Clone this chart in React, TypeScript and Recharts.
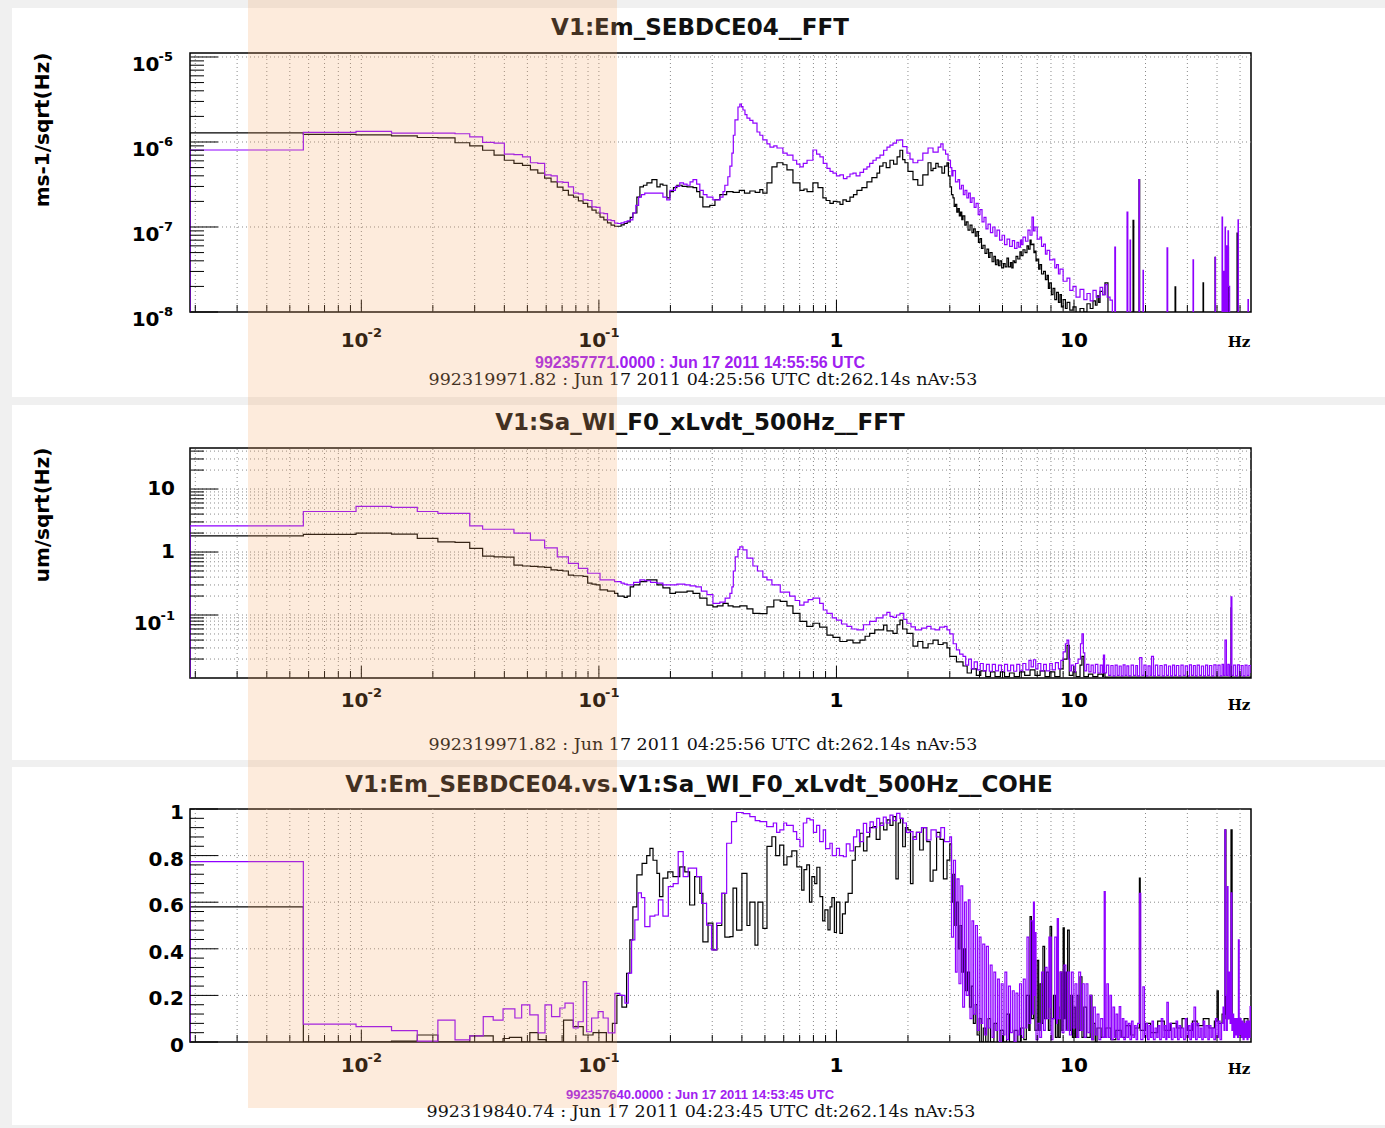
import React from 'react'
import { LineChart, Line, XAxis, YAxis, ReferenceLine, ReferenceArea } from 'recharts'

// ---- frequency axis (Hz), same for the three pads ----
const X_MIN = 0.0019
const X_MAX = 55.6
const xTicks = [
  0.002, 0.003, 0.004, 0.005, 0.006, 0.007, 0.008, 0.009,
  0.01, 0.02, 0.03, 0.04, 0.05, 0.06, 0.07, 0.08, 0.09,
  0.1, 0.2, 0.3, 0.4, 0.5, 0.6, 0.7, 0.8, 0.9,
  1, 2, 3, 4, 5, 6, 7, 8, 9,
  10, 20, 30, 40, 50,
]
const xMajor = [0.01, 0.1, 1, 10]
const xLabels = [
  { v: 0.01, base: '10', exp: '-2' },
  { v: 0.1, base: '10', exp: '-1' },
  { v: 1, base: '1', exp: '' },
  { v: 10, base: '10', exp: '' },
]
// highlighted frequency band
const bandLo = 0.00334
const bandHi = 0.119

// ---- pad 1 : V1:Em_SEBDCE04__FFT ----
const y1Domain = [1e-8, 1.114e-5]
const y1Major = [1e-8, 1e-7, 1e-6, 1e-5]
const y1Labels = [
  { v: 1e-5, base: '10', exp: '-5' },
  { v: 1e-6, base: '10', exp: '-6' },
  { v: 1e-7, base: '10', exp: '-7' },
  { v: 1e-8, base: '10', exp: '-8' },
]
const y1Grid = [1e-7, 1e-6, 1e-5]

const p1Black = [
  [0.0019, 5e-9], [0.0019, 1.28e-6], [0.0057, 1.23e-6], [0.0095, 1.21e-6], [0.0134, 1.18e-6], [0.0172, 1.13e-6],
  [0.021, 1.12e-6], [0.0248, 9.8e-7], [0.0286, 9.0e-7], [0.0324, 8.0e-7], [0.0362, 7.0e-7], [0.04, 6.1e-7],
  [0.0439, 5.6e-7], [0.0477, 5.3e-7], [0.0515, 4.7e-7], [0.0553, 4.3e-7], [0.0591, 3.75e-7], [0.0629, 3.4e-7],
  [0.0668, 2.95e-7], [0.0706, 2.7e-7], [0.0744, 2.37e-7], [0.0782, 2.25e-7], [0.082, 2.03e-7], [0.0858, 1.9e-7],
  [0.0897, 1.72e-7], [0.0935, 1.58e-7], [0.0973, 1.46e-7], [0.1011, 1.31e-7], [0.1049, 1.21e-7], [0.1087, 1.12e-7],
  [0.1125, 1.05e-7], [0.1164, 1.02e-7], [0.1202, 1.02e-7], [0.124, 1.06e-7], [0.1278, 1.1e-7], [0.1316, 1.15e-7],
  [0.1355, 1.3e-7], [0.139, 1.46e-7], [0.1445, 2.25e-7], [0.1488, 2.96e-7], [0.154, 3.1e-7], [0.1593, 3.3e-7],
  [0.1672, 3.6e-7], [0.1755, 2.96e-7], [0.181, 3.2e-7], [0.186, 3.1e-7], [0.1933, 2.2e-7], [0.199, 2.6e-7],
  [0.206, 2.9e-7], [0.213, 3.1e-7], [0.224, 3.0e-7], [0.235, 2.96e-7], [0.249, 2.9e-7], [0.258, 2.6e-7],
  [0.266, 2.25e-7], [0.274, 1.72e-7], [0.293, 1.8e-7], [0.308, 2.1e-7], [0.323, 2.4e-7], [0.345, 2.6e-7],
  [0.367, 2.55e-7], [0.39, 2.7e-7], [0.41, 2.5e-7], [0.432, 2.65e-7], [0.455, 2.55e-7], [0.476, 2.75e-7],
  [0.49, 2.5e-7], [0.51, 3.3e-7], [0.535, 5.1e-7], [0.562, 5.7e-7], [0.595, 5.4e-7], [0.619, 4.7e-7],
  [0.656, 3.3e-7], [0.702, 2.7e-7], [0.73, 2.8e-7], [0.752, 2.6e-7], [0.796, 3.3e-7], [0.836, 2.9e-7],
  [0.877, 2.2e-7], [0.905, 2.05e-7], [0.939, 1.9e-7], [0.97, 2.0e-7], [1.005, 1.97e-7], [1.035, 1.85e-7],
  [1.065, 2.08e-7], [1.1, 2.0e-7], [1.14, 2.25e-7], [1.18, 2.4e-7], [1.22, 2.7e-7], [1.28, 2.9e-7],
  [1.344, 3.4e-7], [1.41, 3.8e-7], [1.481, 4.3e-7], [1.52, 5.2e-7], [1.57, 5.7e-7], [1.62, 5.0e-7],
  [1.68, 6.1e-7], [1.74, 5.5e-7], [1.8, 6.7e-7], [1.85, 8.0e-7], [1.9, 6.2e-7], [1.943, 5.7e-7],
  [2.0, 4.5e-7], [2.1, 3.6e-7], [2.2, 3.1e-7], [2.31, 4.1e-7], [2.43, 5.7e-7], [2.5, 4.6e-7],
  [2.55, 4.9e-7], [2.62, 5.6e-7], [2.68, 5.1e-7], [2.78, 4.3e-7], [2.85, 5.2e-7], [2.92, 5.7e-7],
  [2.96, 4.0e-7], [3.006, 2.96e-7], [3.05, 2.4e-7], [3.094, 2.2e-7], [3.13, 1.75e-7], [3.17, 1.85e-7],
  [3.21, 1.5e-7], [3.25, 1.65e-7], [3.29, 1.35e-7], [3.33, 1.5e-7], [3.37, 1.22e-7], [3.41, 1.35e-7],
  [3.47, 1.05e-7], [3.52, 1.15e-7], [3.58, 9.2e-8], [3.65, 1.05e-7], [3.72, 8.6e-8], [3.78, 9.5e-8],
  [3.84, 7.8e-8], [3.9, 8.8e-8], [3.96, 6.6e-8], [4.02, 7.3e-8], [4.08, 5.6e-8], [4.14, 6.1e-8],
  [4.22, 4.9e-8], [4.3, 5.5e-8], [4.37, 4.4e-8], [4.43, 5.0e-8], [4.52, 3.9e-8], [4.6, 4.5e-8],
  [4.67, 3.6e-8], [4.74, 4.1e-8], [4.81, 3.5e-8], [4.88, 4.0e-8], [4.96, 3.3e-8], [5.05, 3.7e-8],
  [5.13, 3.4e-8], [5.22, 4.3e-8], [5.3, 3.4e-8], [5.4, 3.8e-8], [5.47, 3.3e-8], [5.54, 4.0e-8],
  [5.62, 3.8e-8], [5.7, 4.5e-8], [5.8, 4.2e-8], [5.92, 5.1e-8], [6.0, 4.6e-8], [6.1, 5.4e-8],
  [6.22, 5.0e-8], [6.34, 6.0e-8], [6.43, 5.5e-8], [6.53, 7.0e-8], [6.6, 6.2e-8], [6.7, 6.3e-8],
  [6.78, 5.0e-8], [6.85, 5.2e-8], [6.92, 4.0e-8], [7.0, 4.2e-8], [7.1, 3.2e-8], [7.19, 3.6e-8],
  [7.3, 2.8e-8], [7.45, 3.0e-8], [7.58, 2.4e-8], [7.7, 2.7e-8], [7.8, 1.9e-8], [7.9, 2.2e-8],
  [8.03, 1.6e-8], [8.16, 1.9e-8], [8.3, 1.4e-8], [8.45, 1.7e-8], [8.6, 1.3e-8], [8.73, 1.6e-8],
  [8.85, 1.15e-8], [9.0, 1.4e-8], [9.2, 1.1e-8], [9.35, 1.3e-8], [9.6, 1.05e-8], [9.9, 1.15e-8],
  [10.2, 9e-9], [10.6, 1.1e-8], [11.0, 1.0e-8], [11.34, 1.25e-8], [11.7, 1.1e-8], [12.02, 1.35e-8],
  [12.3, 1.2e-8], [12.5, 1.55e-8], [12.7, 1.3e-8], [12.87, 1.75e-8], [13.2, 1.6e-8], [13.5, 2.2e-8],
  [13.9, 5e-9], [17.6, 5e-9], [17.72, 1.2e-7], [17.85, 5e-9], [18.7, 5e-9], [18.78, 3.6e-7],
  [18.9, 5e-9], [26.5, 5e-9], [26.63, 1.97e-8], [26.8, 5e-9], [34.8, 5e-9], [34.93, 2.2e-8],
  [35.1, 5e-9], [39.1, 5e-9], [39.25, 4.4e-8], [39.4, 5e-9], [44.3, 5e-9], [44.5, 5.8e-8],
  [44.7, 5e-9], [48.4, 5e-9], [48.57, 8.5e-8], [48.8, 5e-9], [55.6, 5e-9],
]

const p1Purple = [
  [0.0019, 5e-9], [0.0019, 8.05e-7], [0.0057, 1.3e-6], [0.0095, 1.33e-6], [0.0134, 1.27e-6], [0.0172, 1.27e-6],
  [0.021, 1.27e-6], [0.0248, 1.25e-6], [0.0286, 1.15e-6], [0.0324, 9.9e-7], [0.0362, 9.7e-7], [0.04, 7.2e-7],
  [0.0439, 7.1e-7], [0.0477, 6.7e-7], [0.0515, 5.7e-7], [0.0553, 5.6e-7], [0.0591, 4.1e-7], [0.0629, 4.0e-7],
  [0.0668, 3.4e-7], [0.0706, 3.35e-7], [0.0744, 2.96e-7], [0.0782, 2.5e-7], [0.082, 2.45e-7], [0.0858, 2.08e-7],
  [0.0897, 2.05e-7], [0.0935, 1.72e-7], [0.0973, 1.7e-7], [0.1011, 1.46e-7], [0.1049, 1.44e-7], [0.1087, 1.21e-7],
  [0.1125, 1.19e-7], [0.1164, 1.11e-7], [0.1202, 1.1e-7], [0.124, 1.12e-7], [0.1278, 1.15e-7], [0.1316, 1.18e-7],
  [0.1355, 1.21e-7], [0.139, 1.46e-7], [0.143, 1.8e-7], [0.147, 2.25e-7], [0.151, 2.4e-7], [0.156, 2.5e-7],
  [0.165, 2.5e-7], [0.1755, 2.5e-7], [0.186, 2.25e-7], [0.193, 2.08e-7], [0.199, 2.7e-7], [0.21, 3.0e-7],
  [0.219, 3.3e-7], [0.227, 3.2e-7], [0.235, 3.1e-7], [0.242, 3.4e-7], [0.249, 3.6e-7], [0.258, 3.2e-7],
  [0.266, 2.7e-7], [0.275, 2.4e-7], [0.285, 2.25e-7], [0.302, 2.08e-7], [0.323, 2.25e-7], [0.333, 2.6e-7],
  [0.339, 3.1e-7], [0.349, 3.9e-7], [0.356, 5.2e-7], [0.363, 7.4e-7], [0.368, 1.2e-6], [0.374, 1.82e-6],
  [0.385, 2.58e-6], [0.392, 2.8e-6], [0.398, 2.6e-6], [0.404, 2.38e-6], [0.412, 2.1e-6], [0.42, 1.91e-6],
  [0.432, 1.8e-6], [0.445, 1.67e-6], [0.463, 1.31e-6], [0.476, 1.2e-6], [0.49, 1.06e-6], [0.51, 9.5e-7],
  [0.525, 8.7e-7], [0.545, 9.0e-7], [0.562, 8.5e-7], [0.595, 7.4e-7], [0.62, 7.0e-7], [0.656, 6.1e-7],
  [0.68, 5.5e-7], [0.702, 5.1e-7], [0.725, 5.6e-7], [0.752, 6.1e-7], [0.796, 8.05e-7], [0.825, 7.2e-7],
  [0.852, 6.7e-7], [0.88, 5.6e-7], [0.912, 4.9e-7], [0.94, 4.5e-7], [0.967, 4.3e-7], [1.0, 4.0e-7],
  [1.034, 4.1e-7], [1.07, 3.7e-7], [1.107, 3.9e-7], [1.14, 4.2e-7], [1.174, 4.3e-7], [1.21, 4.0e-7],
  [1.256, 4.4e-7], [1.3, 4.8e-7], [1.344, 5.1e-7], [1.38, 5.6e-7], [1.425, 6.1e-7], [1.47, 6.5e-7],
  [1.525, 7.0e-7], [1.58, 8.0e-7], [1.632, 8.7e-7], [1.68, 9.2e-7], [1.73, 9.7e-7], [1.79, 1.05e-6],
  [1.851, 1.06e-6], [1.9, 8.8e-7], [1.981, 7.4e-7], [2.04, 6.3e-7], [2.1, 5.7e-7], [2.2, 6.1e-7],
  [2.31, 7.4e-7], [2.43, 8.5e-7], [2.55, 7.6e-7], [2.68, 8.7e-7], [2.75, 9.5e-7], [2.81, 8.05e-7],
  [2.88, 7.2e-7], [2.95, 6.1e-7], [3.02, 5.0e-7], [3.06, 4.0e-7], [3.094, 4.6e-7], [3.17, 3.4e-7],
  [3.248, 3.6e-7], [3.3, 2.8e-7], [3.36, 3.1e-7], [3.42, 2.4e-7], [3.476, 2.7e-7], [3.54, 2.2e-7],
  [3.6, 2.5e-7], [3.66, 1.95e-7], [3.72, 2.2e-7], [3.8, 1.7e-7], [3.87, 1.9e-7], [3.95, 1.4e-7],
  [4.02, 1.6e-7], [4.1, 1.15e-7], [4.18, 1.3e-7], [4.26, 9.5e-8], [4.345, 1.08e-7], [4.45, 8.6e-8],
  [4.55, 1.0e-7], [4.65, 7.8e-8], [4.74, 9.2e-8], [4.86, 7.0e-8], [4.98, 8.0e-8], [5.1, 6.2e-8],
  [5.225, 7.2e-8], [5.36, 5.9e-8], [5.5, 6.9e-8], [5.62, 5.6e-8], [5.754, 6.6e-8], [5.85, 5.8e-8],
  [5.95, 7.0e-8], [6.02, 6.2e-8], [6.1, 7.6e-8], [6.25, 6.8e-8], [6.4, 9.2e-8], [6.53, 8.0e-8],
  [6.655, 1.31e-7], [6.75, 9.0e-8], [6.85, 1.0e-7], [7.0, 7.2e-8], [7.19, 7.6e-8], [7.3, 5.9e-8],
  [7.45, 6.3e-8], [7.58, 4.8e-8], [7.7, 5.3e-8], [7.9, 4.1e-8], [8.16, 4.2e-8], [8.3, 3.3e-8],
  [8.45, 3.6e-8], [8.6, 2.8e-8], [8.73, 3.2e-8], [9.0, 2.3e-8], [9.345, 2.5e-8], [9.6, 1.8e-8],
  [9.9, 2.0e-8], [10.2, 1.5e-8], [10.6, 1.85e-8], [11.0, 1.4e-8], [11.34, 1.65e-8], [11.7, 1.35e-8],
  [12.02, 1.8e-8], [12.4, 1.5e-8], [12.87, 1.95e-8], [13.2, 1.6e-8], [13.5, 2.1e-8], [13.8, 1.5e-8],
  [14.18, 1.38e-8], [14.5, 5e-9], [14.85, 5.8e-8], [14.95, 5e-9], [16.6, 5e-9], [16.72, 1.5e-7],
  [16.85, 5e-9], [17.15, 5e-9], [17.21, 7e-8], [17.3, 5e-9], [18.7, 5e-9], [18.78, 3.6e-7],
  [18.86, 5e-9], [19.45, 5e-9], [19.52, 3.1e-8], [19.6, 5e-9], [24.5, 5e-9], [24.64, 5.7e-8],
  [24.8, 5e-9], [31.55, 5e-9], [31.7, 4.1e-8], [31.85, 5e-9], [39.1, 5e-9], [39.25, 4.4e-8],
  [39.4, 5e-9], [41.85, 5e-9], [42.0, 1.31e-7], [42.2, 5e-9], [42.6, 3e-8], [43.1, 5e-9],
  [43.24, 1.0e-7], [43.4, 5e-9], [43.9, 6e-8], [44.1, 5e-9], [44.5, 9e-8], [44.7, 2e-8],
  [45.2, 5e-9], [48.9, 5e-9], [49.04, 1.21e-7], [49.2, 5e-9], [53.9, 5e-9], [54.0, 1.4e-8],
  [54.2, 5e-9], [55.6, 5e-9],
]

// ---- pad 2 : V1:Sa_WI_F0_xLvdt_500Hz__FFT ----
const y2Domain = [0.01, 44.8]
const y2Major = [0.1, 1, 10]
const y2Labels = [
  { v: 10, base: '10', exp: '' },
  { v: 1, base: '1', exp: '' },
  { v: 0.1, base: '10', exp: '-1' },
]

const p2Black = [
  [0.0019, 0.005], [0.0019, 1.8], [0.0057, 1.9], [0.0095, 2.0], [0.0134, 1.92], [0.0172, 1.65],
  [0.021, 1.45], [0.0248, 1.42], [0.0286, 1.14], [0.0324, 0.86], [0.0362, 0.84], [0.04, 0.83],
  [0.0439, 0.62], [0.0477, 0.6], [0.0515, 0.59], [0.0553, 0.58], [0.0591, 0.57], [0.0629, 0.52],
  [0.0668, 0.51], [0.0706, 0.5], [0.0744, 0.43], [0.0782, 0.42], [0.082, 0.42], [0.0858, 0.41],
  [0.0897, 0.32], [0.0935, 0.31], [0.0973, 0.3], [0.1011, 0.25], [0.1049, 0.25], [0.1087, 0.24],
  [0.1125, 0.24], [0.1164, 0.22], [0.1202, 0.2], [0.124, 0.2], [0.1278, 0.19], [0.1316, 0.2],
  [0.1355, 0.28], [0.14, 0.3], [0.1488, 0.34], [0.159, 0.36], [0.1672, 0.36], [0.1755, 0.3],
  [0.186, 0.27], [0.199, 0.22], [0.21, 0.23], [0.219, 0.23], [0.235, 0.24], [0.249, 0.22],
  [0.266, 0.185], [0.285, 0.144], [0.302, 0.135], [0.315, 0.14], [0.333, 0.153], [0.35, 0.14],
  [0.367, 0.135], [0.392, 0.14], [0.42, 0.125], [0.445, 0.106], [0.476, 0.105], [0.51, 0.135],
  [0.545, 0.173], [0.58, 0.165], [0.619, 0.14], [0.656, 0.106], [0.702, 0.079], [0.75, 0.066],
  [0.796, 0.074], [0.85, 0.064], [0.912, 0.048], [0.967, 0.044], [1.034, 0.038], [1.107, 0.04],
  [1.174, 0.036], [1.256, 0.04], [1.32, 0.046], [1.38, 0.051], [1.45, 0.058], [1.525, 0.058],
  [1.58, 0.069], [1.632, 0.056], [1.73, 0.051], [1.8, 0.07], [1.851, 0.083], [1.9, 0.06],
  [1.981, 0.051], [2.1, 0.032], [2.2, 0.038], [2.31, 0.03], [2.43, 0.035], [2.55, 0.04],
  [2.68, 0.034], [2.81, 0.036], [2.92, 0.03], [3.0, 0.022], [3.2, 0.018], [3.41, 0.0155],
  [3.55, 0.012], [3.7, 0.014], [3.88, 0.011], [4.05, 0.013], [4.25, 0.0105], [4.45, 0.0125],
  [4.65, 0.0105], [4.9, 0.0125], [5.1, 0.0105], [5.35, 0.012], [5.6, 0.0105], [5.9, 0.0125],
  [6.2, 0.011], [6.53, 0.0135], [6.85, 0.011], [7.2, 0.013], [7.55, 0.0105], [7.9, 0.0125],
  [8.3, 0.0105], [8.73, 0.014], [9.0, 0.02], [9.35, 0.033], [9.55, 0.011], [9.9, 0.0125],
  [10.2, 0.0105], [10.6, 0.016], [10.8, 0.022], [11.0, 0.0105], [11.5, 0.0115], [12.0, 0.0105],
  [12.6, 0.0115], [13.2, 0.0105], [13.3, 0.012], [13.5, 0.0103], [45.6, 0.0103], [45.8, 0.13],
  [46.0, 0.0103], [55.6, 0.0103],
]

const p2Purple = [
  [0.0019, 0.005], [0.0019, 2.6], [0.0057, 4.4], [0.0095, 5.3], [0.0134, 5.1], [0.0172, 4.4],
  [0.021, 4.1], [0.0248, 4.1], [0.0286, 2.6], [0.0324, 2.3], [0.0362, 2.3], [0.04, 2.3],
  [0.0439, 2.0], [0.0477, 2.0], [0.0515, 1.55], [0.0553, 1.55], [0.0591, 1.16], [0.0629, 1.16],
  [0.0668, 0.84], [0.0706, 0.84], [0.0744, 0.66], [0.0782, 0.66], [0.082, 0.55], [0.0858, 0.55],
  [0.0897, 0.46], [0.0935, 0.46], [0.0973, 0.46], [0.1011, 0.36], [0.1049, 0.36], [0.1087, 0.36],
  [0.1125, 0.36], [0.1164, 0.34], [0.1202, 0.34], [0.124, 0.32], [0.1278, 0.31], [0.1316, 0.3],
  [0.1355, 0.3], [0.14, 0.33], [0.1488, 0.36], [0.156, 0.35], [0.165, 0.33], [0.175, 0.32],
  [0.186, 0.3], [0.199, 0.3], [0.213, 0.31], [0.23, 0.3], [0.242, 0.29], [0.256, 0.28],
  [0.27, 0.24], [0.285, 0.21], [0.302, 0.153], [0.323, 0.16], [0.34, 0.185], [0.356, 0.22],
  [0.363, 0.28], [0.368, 0.5], [0.375, 0.84], [0.385, 1.1], [0.392, 1.21], [0.404, 1.08],
  [0.42, 0.8], [0.445, 0.6], [0.465, 0.5], [0.49, 0.4], [0.51, 0.36], [0.535, 0.3],
  [0.58, 0.23], [0.635, 0.2], [0.67, 0.17], [0.7, 0.144], [0.73, 0.16], [0.76, 0.175],
  [0.796, 0.185], [0.85, 0.153], [0.88, 0.12], [0.912, 0.106], [0.96, 0.09], [1.0, 0.083],
  [1.05, 0.072], [1.107, 0.066], [1.16, 0.06], [1.22, 0.058], [1.3, 0.07], [1.38, 0.079],
  [1.47, 0.09], [1.57, 0.1], [1.63, 0.11], [1.68, 0.095], [1.73, 0.092], [1.79, 0.1],
  [1.851, 0.106], [1.92, 0.085], [1.98, 0.074], [2.06, 0.065], [2.15, 0.058], [2.28, 0.062],
  [2.4, 0.066], [2.5, 0.06], [2.6, 0.058], [2.72, 0.064], [2.85, 0.066], [2.92, 0.058],
  [3.0, 0.05], [3.1, 0.035], [3.2, 0.028], [3.3, 0.024], [3.41, 0.022], [3.5, 0.016],
  [3.6, 0.02], [3.7, 0.014], [3.8, 0.018], [3.92, 0.0135], [4.03, 0.017], [4.15, 0.013],
  [4.28, 0.0165], [4.4, 0.0128], [4.53, 0.0165], [4.67, 0.013], [4.81, 0.016], [4.95, 0.0128],
  [5.1, 0.0165], [5.25, 0.013], [5.41, 0.016], [5.57, 0.0128], [5.74, 0.0165], [5.91, 0.013],
  [6.09, 0.017], [6.27, 0.0135], [6.46, 0.019], [6.6, 0.015], [6.75, 0.0195], [6.9, 0.014],
  [7.05, 0.017], [7.25, 0.013], [7.45, 0.0165], [7.65, 0.013], [7.9, 0.017], [8.1, 0.0135],
  [8.35, 0.0175], [8.6, 0.014], [8.8, 0.019], [9.0, 0.026], [9.2, 0.035], [9.35, 0.04],
  [9.5, 0.02], [9.6, 0.013], [9.75, 0.016], [9.95, 0.0125], [10.15, 0.017], [10.4, 0.02],
  [10.65, 0.035], [10.8, 0.05], [10.95, 0.025], [11.1, 0.013], [11.3, 0.0165], [11.55, 0.0125],
  [11.8, 0.016], [12.05, 0.012], [12.3, 0.0165], [12.6, 0.012], [12.9, 0.016], [13.15, 0.012],
  [13.3, 0.023], [13.45, 0.012], [13.7, 0.016], [14.0, 0.011], [14.3, 0.0158], [14.6, 0.0108],
  [14.9, 0.016], [15.2, 0.011], [15.5, 0.0155], [15.8, 0.0108], [16.1, 0.0162], [16.4, 0.011],
  [16.7, 0.0156], [17.0, 0.0108], [17.4, 0.016], [17.8, 0.011], [18.2, 0.0158], [18.5, 0.0108],
  [18.9, 0.021], [19.3, 0.011], [19.7, 0.016], [20.1, 0.0108], [20.5, 0.0156], [20.9, 0.011],
  [21.2, 0.022], [21.6, 0.0108], [22.0, 0.016], [22.5, 0.011], [23.0, 0.0158], [23.5, 0.0108],
  [24.0, 0.0162], [24.5, 0.011], [25.0, 0.0155], [25.5, 0.0108], [26.0, 0.016], [26.5, 0.011],
  [27.0, 0.0158], [27.6, 0.0108], [28.2, 0.016], [28.8, 0.011], [29.4, 0.0156], [30.0, 0.0108],
  [30.6, 0.0162], [31.2, 0.011], [31.8, 0.0158], [32.4, 0.0108], [33.0, 0.016], [33.7, 0.011],
  [34.4, 0.0155], [35.1, 0.0108], [35.8, 0.016], [36.5, 0.011], [37.2, 0.0158], [38.0, 0.0108],
  [38.8, 0.0162], [39.6, 0.011], [40.4, 0.016], [41.2, 0.0108], [42.0, 0.0165], [42.6, 0.011],
  [43.2, 0.04], [43.8, 0.011], [44.4, 0.0165], [45.0, 0.0108], [45.4, 0.016], [45.8, 0.195],
  [46.2, 0.011], [47.0, 0.016], [47.9, 0.0108], [48.8, 0.0162], [49.7, 0.011], [50.6, 0.0158],
  [51.5, 0.0108], [52.5, 0.016], [53.5, 0.011], [54.5, 0.0158], [55.6, 0.012],
]

// ---- pad 3 : coherence ----
const y3Domain = [0, 1]
const y3Major = [0, 0.2, 0.4, 0.6, 0.8, 1]
const y3Labels = [
  { v: 0, base: '0', exp: '' },
  { v: 0.2, base: '0.2', exp: '' },
  { v: 0.4, base: '0.4', exp: '' },
  { v: 0.6, base: '0.6', exp: '' },
  { v: 0.8, base: '0.8', exp: '' },
  { v: 1, base: '1', exp: '' },
]
const y3Grid = [0.2, 0.4, 0.6, 0.8]

const p3Black = [
  [0.0019, 0], [0.0019, 0.58], [0.0057, 0], [0.0134, 0.004], [0.0172, 0.03], [0.021, 0],
  [0.0286, 0.026], [0.0359, 0], [0.0395, 0.015], [0.042, 0.02], [0.0473, 0], [0.0512, 0.04],
  [0.0555, 0.01], [0.06, 0], [0.071, 0.094], [0.078, 0.066], [0.0859, 0.03], [0.0945, 0.04],
  [0.1075, 0], [0.114, 0.08], [0.119, 0.2], [0.125, 0.15], [0.1308, 0.295], [0.135, 0.438],
  [0.139, 0.58], [0.1445, 0.717], [0.152, 0.767], [0.159, 0.8], [0.164, 0.831], [0.169, 0.78],
  [0.1755, 0.724], [0.18, 0.624], [0.186, 0.703], [0.195, 0.73], [0.205, 0.71], [0.219, 0.752],
  [0.23, 0.73], [0.241, 0.588], [0.253, 0.71], [0.266, 0.638], [0.274, 0.43], [0.288, 0.51],
  [0.302, 0.395], [0.314, 0.5], [0.329, 0.638], [0.339, 0.45], [0.356, 0.452], [0.367, 0.66],
  [0.38, 0.48], [0.4, 0.724], [0.42, 0.5], [0.432, 0.6], [0.454, 0.416], [0.467, 0.6],
  [0.49, 0.488], [0.51, 0.84], [0.535, 0.881], [0.555, 0.8], [0.577, 0.845], [0.6, 0.76],
  [0.619, 0.795], [0.649, 0.82], [0.681, 0.752], [0.714, 0.652], [0.73, 0.74], [0.75, 0.76],
  [0.77, 0.6], [0.788, 0.71], [0.81, 0.68], [0.827, 0.75], [0.852, 0.624], [0.875, 0.52],
  [0.894, 0.567], [0.921, 0.481], [0.94, 0.58], [0.957, 0.62], [0.98, 0.47], [1.0, 0.6],
  [1.034, 0.466], [1.06, 0.55], [1.09, 0.6], [1.12, 0.638], [1.165, 0.78], [1.2, 0.838],
  [1.256, 0.896], [1.3, 0.82], [1.344, 0.88], [1.38, 0.92], [1.425, 0.924], [1.47, 0.87],
  [1.525, 0.94], [1.58, 0.91], [1.632, 0.953], [1.68, 0.93], [1.73, 0.967], [1.78, 0.7],
  [1.82, 0.94], [1.86, 0.96], [1.9, 0.838], [1.95, 0.92], [2.0, 0.91], [2.05, 0.68],
  [2.1, 0.88], [2.17, 0.9], [2.24, 0.824], [2.32, 0.92], [2.4, 0.86], [2.48, 0.69],
  [2.55, 0.738], [2.64, 0.9], [2.73, 0.87], [2.82, 0.7], [2.92, 0.781], [3.0, 0.85],
  [3.05, 0.6], [3.09, 0.72], [3.15, 0.5], [3.2, 0.6], [3.26, 0.4], [3.31, 0.5],
  [3.37, 0.3], [3.43, 0.4], [3.5, 0.22], [3.56, 0.3], [3.63, 0.15], [3.7, 0.24],
  [3.77, 0.08], [3.84, 0.16], [3.91, 0.03], [3.99, 0.1], [4.07, 0], [4.15, 0.06],
  [4.25, 0], [4.35, 0.1], [4.45, 0], [4.6, 0.08], [4.75, 0], [4.88, 0.05],
  [5.05, 0], [5.2, 0.12], [5.35, 0], [5.6, 0.05], [5.8, 0], [5.95, 0.06],
  [6.15, 0.01], [6.3, 0.2], [6.45, 0.05], [6.53, 0.538], [6.62, 0.1], [6.75, 0.3],
  [6.85, 0.05], [7.0, 0.35], [7.1, 0.05], [7.2, 0.25], [7.3, 0.08], [7.4, 0.41],
  [7.52, 0.1], [7.65, 0.3], [7.8, 0.05], [7.93, 0.495], [8.05, 0.1], [8.2, 0.2],
  [8.35, 0.02], [8.5, 0.15], [8.62, 0.02], [8.75, 0.3], [8.88, 0.05], [9.0, 0.49],
  [9.1, 0.1], [9.2, 0.3], [9.3, 0.05], [9.4, 0.48], [9.55, 0.05], [9.7, 0.2],
  [9.85, 0.02], [10.0, 0.15], [10.15, 0.02], [10.3, 0.2], [10.45, 0.05], [10.6, 0.28],
  [10.8, 0.02], [11.0, 0.15], [11.3, 0.02], [11.7, 0.2], [11.9, 0.01], [12.1, 0.08],
  [12.3, 0], [12.5, 0.06], [13.0, 0.02], [13.6, 0.06], [14.3, 0.01], [15.0, 0.05],
  [15.8, 0.02], [16.5, 0.07], [17.3, 0.03], [18.0, 0.06], [18.85, 0.703], [19.0, 0.05],
  [20.0, 0.08], [21.0, 0.04], [22.5, 0.09], [24.0, 0.05], [25.5, 0.08], [27.0, 0.06],
  [28.5, 0.1], [30.0, 0.05], [31.5, 0.09], [33.0, 0.07], [35.0, 0.1], [37.0, 0.06],
  [39.0, 0.09], [40.0, 0.22], [40.5, 0.08], [42.0, 0.12], [43.2, 0.91], [43.6, 0.1],
  [45.0, 0.2], [45.8, 0.91], [46.3, 0.08], [48.0, 0.1], [50.0, 0.07], [52.0, 0.1],
  [54.0, 0.06], [55.6, 0.06],
]

const p3Purple = [
  [0.0019, 0], [0.0019, 0.774], [0.0057, 0.077], [0.0095, 0.066], [0.0134, 0.049], [0.0172, 0.004],
  [0.021, 0.094], [0.0248, 0.009], [0.0286, 0.026], [0.0326, 0.109], [0.0359, 0.094], [0.0395, 0.142],
  [0.0443, 0.103], [0.0473, 0.159], [0.0512, 0.116], [0.0555, 0.039], [0.0593, 0.159], [0.0632, 0.109],
  [0.0685, 0.146], [0.072, 0.167], [0.078, 0.06], [0.0818, 0.087], [0.0859, 0.259], [0.0888, 0.044],
  [0.0932, 0.103], [0.0993, 0.13], [0.1042, 0.103], [0.1094, 0.039], [0.1168, 0.209], [0.1226, 0.2],
  [0.1287, 0.167], [0.133, 0.296], [0.1373, 0.438], [0.1417, 0.524], [0.1463, 0.64], [0.151, 0.62],
  [0.156, 0.495], [0.164, 0.54], [0.172, 0.545], [0.178, 0.61], [0.186, 0.54], [0.196, 0.667],
  [0.2055, 0.68], [0.2157, 0.817], [0.2264, 0.71], [0.2376, 0.746], [0.2578, 0.71], [0.2706, 0.595],
  [0.284, 0.502], [0.298, 0.395], [0.313, 0.51], [0.3284, 0.638], [0.345, 0.853], [0.3617, 0.946],
  [0.3797, 0.985], [0.405, 0.98], [0.432, 0.967], [0.455, 0.95], [0.476, 0.946], [0.5085, 0.924],
  [0.5423, 0.94], [0.56, 0.9], [0.578, 0.91], [0.6, 0.94], [0.617, 0.93], [0.658, 0.903],
  [0.68, 0.87], [0.702, 0.838], [0.7253, 0.94], [0.75, 0.96], [0.7735, 0.953], [0.8, 0.9],
  [0.825, 0.93], [0.85, 0.86], [0.88, 0.91], [0.9, 0.83], [0.9385, 0.853], [0.96, 0.8],
  [1.0, 0.831], [1.03, 0.8], [1.07, 0.795], [1.1, 0.85], [1.14, 0.82], [1.18, 0.88],
  [1.217, 0.91], [1.25, 0.86], [1.298, 0.938], [1.34, 0.9], [1.385, 0.945], [1.43, 0.92],
  [1.477, 0.96], [1.52, 0.93], [1.575, 0.965], [1.62, 0.94], [1.68, 0.974], [1.73, 0.95],
  [1.792, 0.981], [1.85, 0.96], [1.91, 0.94], [1.97, 0.9], [2.04, 0.903], [2.1, 0.87],
  [2.174, 0.9], [2.28, 0.92], [2.39, 0.867], [2.5, 0.91], [2.63, 0.88], [2.75, 0.92],
  [2.85, 0.86], [3.0, 0.88], [3.05, 0.45], [3.11, 0.78], [3.17, 0.3], [3.22, 0.7],
  [3.28, 0.25], [3.34, 0.67], [3.4, 0.15], [3.46, 0.6], [3.52, 0.2], [3.59, 0.61],
  [3.65, 0.1], [3.72, 0.52], [3.78, 0.12], [3.85, 0.5], [3.92, 0.05], [3.99, 0.45],
  [4.06, 0.08], [4.13, 0.42], [4.21, 0.03], [4.28, 0.41], [4.36, 0.06], [4.44, 0.33],
  [4.52, 0.02], [4.6, 0.3], [4.68, 0.05], [4.77, 0.27], [4.85, 0], [4.94, 0.25],
  [5.03, 0.03], [5.12, 0.3], [5.21, 0.01], [5.3, 0.24], [5.4, 0.04], [5.5, 0.22],
  [5.6, 0], [5.7, 0.21], [5.8, 0.03], [5.9, 0.25], [6.01, 0.02], [6.12, 0.27],
  [6.23, 0.06], [6.34, 0.45], [6.45, 0.08], [6.57, 0.52], [6.69, 0.12], [6.75, 0.6],
  [6.81, 0.2], [6.88, 0.47], [6.92, 0.01], [7.05, 0.08], [7.18, 0.02], [7.3, 0.3],
  [7.44, 0.05], [7.57, 0.32], [7.7, 0.1], [7.84, 0.45], [7.9, 0.15], [7.95, 0.45],
  [8.02, 0.01], [8.15, 0.1], [8.3, 0.45], [8.45, 0.08], [8.5, 0.53], [8.6, 0.1],
  [8.76, 0.3], [8.91, 0.04], [9.07, 0.33], [9.24, 0.05], [9.4, 0.3], [9.57, 0.03],
  [9.75, 0.3], [9.92, 0.06], [10.1, 0.25], [10.28, 0.02], [10.47, 0.3], [10.66, 0.05],
  [10.85, 0.25], [11.04, 0.02], [11.24, 0.25], [11.44, 0.04], [11.65, 0.2], [11.86, 0.01],
  [12.07, 0.15], [12.29, 0.03], [12.51, 0.12], [12.73, 0.01], [12.96, 0.1], [13.2, 0.02],
  [13.4, 0.645], [13.54, 0.02], [13.75, 0.25], [13.96, 0.02], [14.17, 0.2], [14.38, 0.01],
  [14.6, 0.15], [14.82, 0.02], [15.04, 0.12], [15.27, 0.01], [15.5, 0.152], [15.73, 0.02],
  [15.97, 0.1], [16.21, 0.01], [16.45, 0.09], [16.7, 0.02], [16.95, 0.08], [17.2, 0.01],
  [17.46, 0.09], [17.72, 0.02], [17.99, 0.07], [18.26, 0.01], [18.53, 0.08], [18.85, 0.638],
  [19.1, 0.01], [19.5, 0.237], [19.8, 0.02], [20.1, 0.08], [20.4, 0.01], [20.7, 0.07],
  [21.0, 0.02], [21.3, 0.09], [21.6, 0.01], [21.95, 0.06], [22.3, 0.02], [22.6, 0.07],
  [22.95, 0.01], [23.3, 0.1], [23.65, 0.02], [24.0, 0.07], [24.35, 0.01], [24.6, 0.17],
  [24.95, 0.02], [25.3, 0.08], [25.7, 0.01], [26.1, 0.06], [26.5, 0.02], [26.9, 0.09],
  [27.3, 0.01], [27.7, 0.07], [28.1, 0.02], [28.5, 0.06], [28.95, 0.01], [29.4, 0.1],
  [29.85, 0.02], [30.3, 0.07], [30.75, 0.01], [31.2, 0.08], [31.65, 0.02], [32.0, 0.15],
  [32.5, 0.01], [33.0, 0.08], [33.5, 0.02], [34.0, 0.06], [34.5, 0.01], [35.0, 0.09],
  [35.5, 0.02], [36.0, 0.07], [36.6, 0.01], [37.1, 0.07], [37.7, 0.02], [38.2, 0.06],
  [38.8, 0.01], [39.4, 0.1], [40.0, 0.02], [40.6, 0.09], [41.2, 0.01], [41.8, 0.08],
  [42.4, 0.15], [42.8, 0.05], [43.2, 0.91], [43.5, 0.2], [43.9, 0.05], [44.2, 0.667],
  [44.5, 0.1], [45.0, 0.3], [45.4, 0.08], [45.8, 0.64], [46.2, 0.05], [46.6, 0.12],
  [47.0, 0.02], [47.5, 0.1], [48.0, 0.03], [48.4, 0.1], [48.8, 0.02], [49.2, 0.438],
  [49.6, 0.03], [50.0, 0.1], [50.5, 0.02], [51.0, 0.09], [51.5, 0.01], [52.0, 0.08],
  [52.5, 0.02], [53.0, 0.09], [53.5, 0.01], [54.0, 0.09], [54.5, 0.02], [55.1, 0.152],
  [55.6, 0.05],
]

// ---- layout ----
const W = 1385
const PLOT_LEFT = 190
const PLOT_W = 1061
const PURPLE = '#8f00ff'
const GRID = '#8a8a8a'

const toPts = (a: number[][]) => a.map(([f, v]) => ({ f, v }))
const near = (a: number, b: number) => Math.abs(a - b) <= Math.abs(b) * 1e-6 + 1e-12
const decadeTicks = (decades: number[], top: number) =>
  decades.flatMap((d) => [1, 2, 3, 4, 5, 6, 7, 8, 9].map((m) => m * d)).filter((t) => t <= top)

const fx = (f: number) =>
  PLOT_LEFT + ((Math.log10(f) - Math.log10(X_MIN)) / (Math.log10(X_MAX) - Math.log10(X_MIN))) * PLOT_W

const XTick = (props: any) => {
  const { x, y, payload, labelDy } = props
  const v = payload.value
  const major = xMajor.some((m) => near(v, m))
  const lab = xLabels.find((l) => near(v, l.v))
  return (
    <g>
      <line x1={x} x2={x} y1={y} y2={y - (major ? 12 : 7)} stroke="#000" strokeWidth={1} />
      {lab && (
        <text x={x} y={y + labelDy} textAnchor="middle" fontFamily="DejaVu Sans" fontWeight="bold" fontSize={20} fill="#000">
          {lab.base}
          {lab.exp ? <tspan dx={-1} dy={-10} fontSize={13}>{lab.exp}</tspan> : null}
        </text>
      )}
    </g>
  )
}

const YTick = (props: any) => {
  const { x, y, payload, majors, labels, gap, dyExp, dyPlain } = props
  const v = payload.value
  const major = majors.some((m: number) => near(v, m))
  const lab = labels.find((l: any) => near(v, l.v))
  return (
    <g>
      <line x1={x} x2={x + (major ? 28 : 14)} y1={y} y2={y} stroke="#000" strokeWidth={1} />
      {lab && (
        <text x={x - gap} y={y + (lab.exp ? dyExp : dyPlain)} textAnchor="end" fontFamily="DejaVu Sans" fontWeight="bold" fontSize={20} fill="#000">
          {lab.base}
          {lab.exp ? <tspan dx={-1} dy={-10} fontSize={13}>{lab.exp}</tspan> : null}
        </text>
      )}
    </g>
  )
}

const Pad = (p: any) => (
  <div style={{ position: 'absolute', left: 0, top: p.top }}>
    <LineChart width={W} height={p.height} margin={{ top: p.mTop, right: W - PLOT_LEFT - PLOT_W, bottom: p.mBottom, left: PLOT_LEFT - 60 }}>
      <XAxis
        dataKey="f" type="number" scale="log" domain={[X_MIN, X_MAX]} allowDataOverflow
        ticks={xTicks} interval={0} tickSize={0} tickMargin={0} tickLine={false} axisLine={false} height={40}
        tick={(t: any) => <XTick {...t} labelDy={p.xLabelDy} />}
      />
      <YAxis
        type="number" scale={p.yScale} domain={p.yDomain} allowDataOverflow
        ticks={p.yTicks} interval={0} tickSize={0} tickMargin={0} tickLine={false} axisLine={false} width={60}
        tick={(t: any) => (
          <YTick {...t} majors={p.yMajor} labels={p.yLabels} gap={p.gap} dyExp={p.dyExp} dyPlain={p.dyPlain} />
        )}
      />
      {xTicks.map((g) => (
        <ReferenceLine key={'vx' + g} x={g} stroke={GRID} strokeDasharray="1 3" strokeWidth={1} />
      ))}
      {p.yGrid.map((g: number) => (
        <ReferenceLine key={'hy' + g} y={g} stroke={GRID} strokeDasharray="1 3" strokeWidth={1} />
      ))}
      <Line data={toPts(p.black)} dataKey="v" type="stepAfter" stroke="#000" strokeWidth={1.2} dot={false} isAnimationActive={false} />
      <Line data={toPts(p.purple)} dataKey="v" type="stepAfter" stroke={PURPLE} strokeWidth={1.2} dot={false} isAnimationActive={false} />
      <ReferenceArea
        x1={X_MIN} x2={X_MAX} y1={p.yDomain[0]} y2={p.yDomain[1]}
        fill="none" fillOpacity={0} stroke="#000" strokeWidth={1.5} ifOverflow="visible"
      />
    </LineChart>
  </div>
)

const Txt = ({ x, y, children, style }: any) => (
  <div style={{ position: 'absolute', left: x, top: y, transform: 'translate(-50%, -50%)', whiteSpace: 'nowrap', lineHeight: 1, ...style }}>
    {children}
  </div>
)

const titleStyle = { fontFamily: 'DejaVu Sans', fontWeight: 'bold', fontSize: 23, color: '#111' }
const serifStyle = { fontFamily: 'DejaVu Serif', fontSize: 17.5, color: '#111' }
const hzStyle = { fontFamily: 'DejaVu Serif', fontWeight: 'bold', fontSize: 15, color: '#000' }
const yTitleStyle = { fontFamily: 'DejaVu Sans', fontWeight: 'bold', fontSize: 20, color: '#000' }

export default function App() {
  const y1Ticks = decadeTicks([1e-8, 1e-7, 1e-6], 1.0001e-5).concat([1e-5])
  const y2Ticks = decadeTicks([0.01, 0.1, 1, 10], 44).filter((t) => t > 0.0101)
  const y3Ticks = Array.from({ length: 26 }, (_, i) => Math.round(i * 4) / 100)

  return (
    <div style={{ position: 'relative', width: W, height: 1128, background: '#f0f0f0', overflow: 'hidden' }}>
      <style>{'body{margin:0}'}</style>
      <div style={{ position: 'absolute', left: 12, top: 8, width: W - 12, height: 389, background: '#fff' }} />
      <div style={{ position: 'absolute', left: 12, top: 405, width: W - 12, height: 355, background: '#fff' }} />
      <div style={{ position: 'absolute', left: 12, top: 767, width: W - 12, height: 358, background: '#fff' }} />

      <Pad
        top={8} height={389} mTop={45} mBottom={45} xLabelDy={35}
        yScale="log" yDomain={y1Domain} yTicks={y1Ticks} yMajor={y1Major} yLabels={y1Labels} yGrid={y1Grid}
        gap={17} dyExp={14} dyPlain={7} black={p1Black} purple={p1Purple}
      />
      <Pad
        top={405} height={355} mTop={43} mBottom={42} xLabelDy={29}
        yScale="log" yDomain={y2Domain} yTicks={y2Ticks} yMajor={y2Major} yLabels={y2Labels} yGrid={y2Ticks}
        gap={15} dyExp={15} dyPlain={6} black={p2Black} purple={p2Purple}
      />
      <Pad
        top={767} height={358} mTop={42} mBottom={43} xLabelDy={30}
        yScale="linear" yDomain={y3Domain} yTicks={y3Ticks} yMajor={y3Major} yLabels={y3Labels} yGrid={y3Grid}
        gap={6} dyExp={10} dyPlain={10} black={p3Black} purple={p3Purple}
      />

      <Txt x={700} y={27} style={titleStyle}>V1:Em_SEBDCE04__FFT</Txt>
      <Txt x={700} y={422} style={titleStyle}>V1:Sa_WI_F0_xLvdt_500Hz__FFT</Txt>
      <Txt x={699} y={784} style={titleStyle}>V1:Em_SEBDCE04.vs.V1:Sa_WI_F0_xLvdt_500Hz__COHE</Txt>

      <Txt x={42} y={130} style={{ ...yTitleStyle, transform: 'translate(-50%, -50%) rotate(-90deg)' }}>ms-1/sqrt(Hz)</Txt>
      <Txt x={42} y={515} style={{ ...yTitleStyle, transform: 'translate(-50%, -50%) rotate(-90deg)' }}>um/sqrt(Hz)</Txt>

      <Txt x={1239} y={342} style={hzStyle}>Hz</Txt>
      <Txt x={1239} y={705} style={hzStyle}>Hz</Txt>
      <Txt x={1239} y={1069} style={hzStyle}>Hz</Txt>

      <Txt x={700} y={363} style={{ fontFamily: 'Liberation Sans', fontWeight: 'bold', fontSize: 16, color: '#a020f0' }}>
        992357771.0000 : Jun 17 2011 14:55:56 UTC
      </Txt>
      <Txt x={703} y={380} style={serifStyle}>992319971.82 : Jun 17 2011 04:25:56 UTC dt:262.14s nAv:53</Txt>
      <Txt x={703} y={745} style={serifStyle}>992319971.82 : Jun 17 2011 04:25:56 UTC dt:262.14s nAv:53</Txt>
      <Txt x={700} y={1094} style={{ fontFamily: 'Liberation Sans', fontWeight: 'bold', fontSize: 13, color: '#a020f0' }}>
        992357640.0000 : Jun 17 2011 14:53:45 UTC
      </Txt>
      <Txt x={701} y={1112} style={serifStyle}>992319840.74 : Jun 17 2011 04:23:45 UTC dt:262.14s nAv:53</Txt>

      {/* shaded frequency band drawn over all three pads */}
      <div
        style={{
          position: 'absolute', left: fx(bandLo), top: 0, width: fx(bandHi) - fx(bandLo), height: 1108,
          background: 'rgba(244, 164, 96, 0.22)', pointerEvents: 'none',
        }}
      />
    </div>
  )
}
